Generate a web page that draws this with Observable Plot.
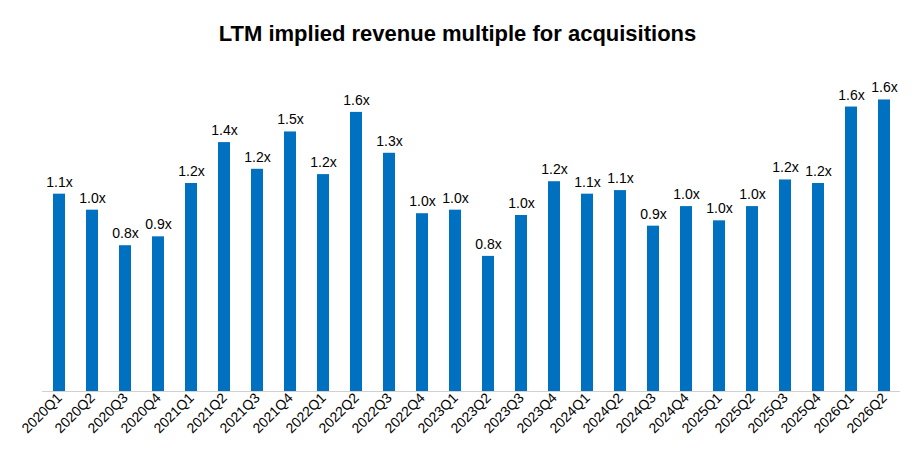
<!DOCTYPE html>
<html><head><meta charset="utf-8">
<script src="https://cdn.jsdelivr.net/npm/d3@7"></script>
<script src="https://cdn.jsdelivr.net/npm/@observablehq/plot@0.6"></script>
<style>
body{margin:0;background:#fff;font-family:"Liberation Sans",Arial,sans-serif;}
#title{height:60px;line-height:68px;text-align:center;font-weight:bold;font-size:22px;color:#000;}
</style></head><body>
<div id="title">LTM implied revenue multiple for acquisitions</div>
<div id="chart"></div>
<script>
const quarters = ["2020Q1","2020Q2","2020Q3","2020Q4","2021Q1","2021Q2","2021Q3","2021Q4","2022Q1","2022Q2","2022Q3","2022Q4","2023Q1","2023Q2","2023Q3","2023Q4","2024Q1","2024Q2","2024Q3","2024Q4","2025Q1","2025Q2","2025Q3","2025Q4","2026Q1","2026Q2"];
const values = [1.11,1.02,0.82,0.87,1.17,1.40,1.25,1.46,1.22,1.57,1.34,1.00,1.02,0.76,0.99,1.18,1.11,1.13,0.93,1.04,0.96,1.04,1.19,1.17,1.60,1.64];
const labels = ["1.1x","1.0x","0.8x","0.9x","1.2x","1.4x","1.2x","1.5x","1.2x","1.6x","1.3x","1.0x","1.0x","0.8x","1.0x","1.2x","1.1x","1.1x","0.9x","1.0x","1.0x","1.0x","1.2x","1.2x","1.6x","1.6x"];
const data = quarters.map((q,i)=>({q, v:values[i], l:labels[i]}));
const chart = Plot.plot({
  width:915, height:399, marginTop:11, marginBottom:68, marginLeft:42, marginRight:15,
  style:{fontFamily:"Liberation Sans, Arial, sans-serif", fontSize:"14px", background:"#fff"},
  x:{domain:quarters, paddingInner:0.64, paddingOuter:0.1, label:null, tickSize:0, tickRotate:-45, tickPadding:4},
  y:{domain:[0,1.8], axis:null},
  marks:[
    Plot.barY(data,{x:"q", y:"v", fill:"#0070C0"}),
    Plot.text(data,{x:"q", y:"v", text:"l", dy:-12, fontSize:14, fill:"#000"}),
    Plot.ruleY([0],{stroke:"#d0d0d0", strokeWidth:1})
  ]
});
chart.querySelectorAll('[aria-label="x-axis tick label"] text').forEach(t=>{t.style.fontSize="14px";t.setAttribute("fill","#000");});
document.getElementById("chart").appendChild(chart);
</script></body></html>
